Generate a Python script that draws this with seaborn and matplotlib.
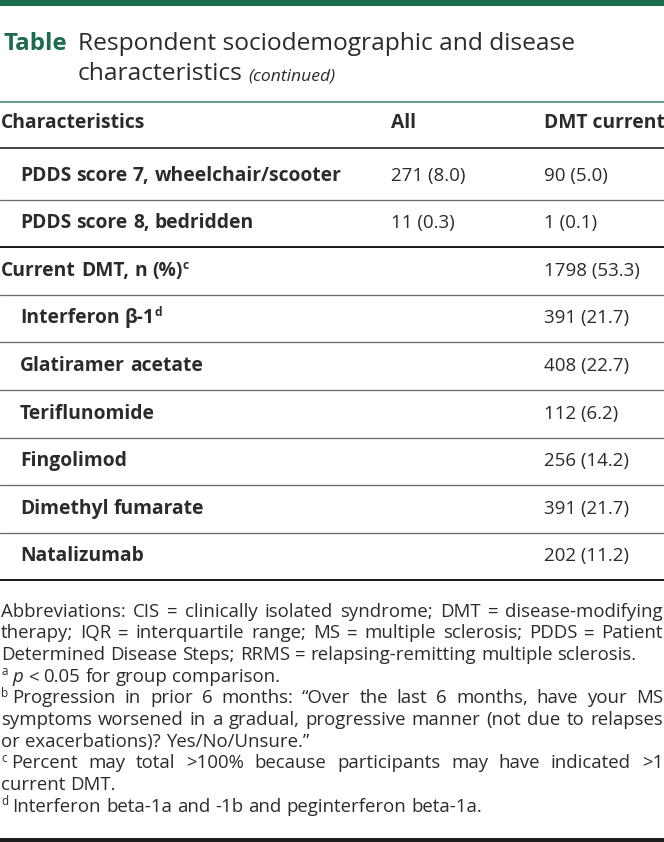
import matplotlib
matplotlib.use('Agg')
import matplotlib.pyplot as plt
import seaborn as sns

# --- table content ---
title_label = "Table"
title_lines = ["Respondent sociodemographic and disease", "characteristics"]
title_suffix = "(continued)"
columns = ["Characteristics", "All", "DMT current"]

characteristics = ["PDDS score 7, wheelchair/scooter", "PDDS score 8, bedridden",
                   "Current DMT, n (%)^c", "Interferon β-1^d", "Glatiramer acetate",
                   "Teriflunomide", "Fingolimod", "Dimethyl fumarate", "Natalizumab"]
indented = [True, True, False, True, True, True, True, True, True]
all_n = [271, 11, None, None, None, None, None, None, None]
all_pct = [8.0, 0.3, None, None, None, None, None, None, None]
dmt_n = [90, 1, 1798, 391, 408, 112, 256, 391, 202]
dmt_pct = [5.0, 0.1, 53.3, 21.7, 22.7, 6.2, 14.2, 21.7, 11.2]
group_end = [False, True, False, False, False, False, False, False, True]

# footnote lines: (text, justified)  ^x = superscript, *x* = italic
footnotes = [
    ("Abbreviations: CIS = clinically isolated syndrome; DMT = disease-modifying", True),
    ("therapy; IQR = interquartile range; MS = multiple sclerosis; PDDS = Patient", True),
    ("Determined Disease Steps; RRMS = relapsing-remitting multiple sclerosis.", False),
    ("^a *p* < 0.05 for group comparison.", False),
    ("^b Progression in prior 6 months: “Over the last 6 months, have your MS", True),
    ("symptoms worsened in a gradual, progressive manner (not due to relapses", True),
    ("or exacerbations)? Yes/No/Unsure.”", False),
    ("^c Percent may total >100% because participants may have indicated >1", True),
    ("current DMT.", False),
    ("^d Interferon beta-1a and -1b and peginterferon beta-1a.", False),
]

INK = '#2b2b2b'
GREEN = '#1c6b4c'
GREEN_RULE = '#3d8a6b'
PT = 0.72  # px -> pt at dpi 100

sns.set_theme(style='white')
plt.rcParams['font.family'] = ['Open Sans', 'DejaVu Sans']

fig = plt.figure(figsize=(6.64, 8.42), dpi=100)
ax = fig.add_axes([0, 0, 1, 1])
ax.set_xlim(0, 664)
ax.set_ylim(842, 0)
ax.axis('off')
renderer = fig.canvas.get_renderer()


def parse(line):
    words, pending = [], []
    for w in line.split(' '):
        if w.startswith('^'):
            pending = [(w[1:], 'normal', True)]
            continue
        style = 'italic' if w.startswith('*') else 'normal'
        base, _, sup = w.strip('*').partition('^')
        parts = pending + [(base, style, False)]
        if sup:
            parts.append((sup, 'normal', True))
        words.append(parts)
        pending = []
    return words


def make_token(parts, px, weight, color):
    objs, w = [], 0
    for k, (txt, style, sup) in enumerate(parts):
        fs = px * 0.62 if sup else px
        t = ax.text(0, 0, txt, fontsize=fs * PT, fontweight=weight, fontstyle=style,
                    color=color, va='baseline', ha='left')
        objs.append((t, w, -px * 0.36 if sup else 0))
        w += t.get_window_extent(renderer).width
        if sup and k < len(parts) - 1:
            w += 4.5
    return objs, w


def draw_line(x, y, line, px, weight='normal', color=INK, width=None):
    toks = [make_token(p, px, weight, color) for p in parse(line)]
    space = px * 0.27
    if width and len(toks) > 1:
        space = (width - sum(w for _, w in toks)) / (len(toks) - 1)
    for objs, w in toks:
        for t, dx, dy in objs:
            t.set_position((x + dx, y + dy))
        x += w + space


# --- header block ---
ax.axhspan(0, 5.5, color=GREEN, lw=0)
ax.text(3, 49.5, title_label, fontsize=24.1 * PT, fontweight='bold', color=GREEN, va='baseline')
ax.text(78, 49.5, title_lines[0], fontsize=24.5 * PT, color=INK, va='baseline')
t2 = ax.text(78, 80.5, title_lines[1], fontsize=24.5 * PT, color=INK, va='baseline')
x2 = 78 + t2.get_window_extent(renderer).width + 5
ax.text(x2, 80.5, title_suffix, fontsize=17.5 * PT, fontstyle='italic', color=INK, va='baseline')
ax.axhline(102, color=GREEN_RULE, lw=1.6 * PT)

# --- column headers ---
col_x = [1, 391, 543.5]
for cx, name in zip(col_x, columns):
    ax.text(cx, 128.5, name, fontsize=19.3 * PT, fontweight='bold', color=INK, va='baseline')
ax.axhline(148, color='#1e1e1e', lw=1.6 * PT)

# --- body rows ---
row_h = 47.6
for i, label in enumerate(characteristics):
    top = 148 + (4 if i > 0 else 0) + row_h * i
    base = top + (33 if i == 0 else 28.6)
    draw_line(20 if indented[i] else 1, base, label, 19.3, weight='bold')
    if all_n[i] is not None:
        ax.text(col_x[1], base, f"{all_n[i]} ({all_pct[i]:.1f})", fontsize=18.8 * PT,
                color=INK, va='baseline')
    ax.text(col_x[2], base, f"{dmt_n[i]} ({dmt_pct[i]:.1f})", fontsize=18.8 * PT,
            color=INK, va='baseline')
    bottom = 148 + 4 + row_h * (i + 1)
    if group_end[i]:
        ax.axhline(bottom, color='#1e1e1e', lw=2.0 * PT)
    else:
        ax.axhline(bottom, color='#6a6a6a', lw=1.3 * PT)

# --- footnotes ---
for k, (line, just) in enumerate(footnotes):
    draw_line(1, 616.7 + 21.67 * k, line, 18.7, width=662 if just else None)

ax.axhspan(838, 842, color='#1e1e1e', lw=0)

fig.savefig('out.png', dpi=100)
